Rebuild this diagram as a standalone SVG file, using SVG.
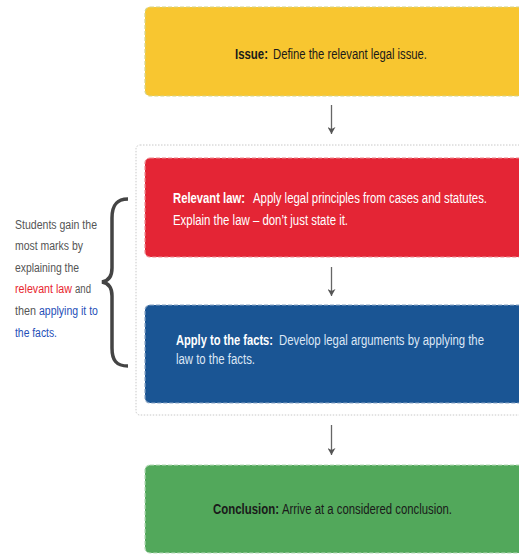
<svg xmlns="http://www.w3.org/2000/svg" width="519" height="554" viewBox="0 0 519 554">
<defs>
<marker id="ah" markerWidth="8" markerHeight="8" refX="7" refY="4" orient="auto" markerUnits="userSpaceOnUse">
<path d="M0,0 L7,4 L0,8 L2,4 Z" fill="#555"/>
</marker>
</defs>
<style>
.t{font-family:"Liberation Sans",Arial,sans-serif;font-size:15px}
.s{font-family:"Liberation Sans",Arial,sans-serif;font-size:13.5px;fill:#555}
.b{font-weight:bold}
.box{stroke-width:1.2;stroke-dasharray:4 2}
.conn line{stroke:#666;stroke-width:1.3}
</style>
<rect width="519" height="554" fill="#fff"/>
<g id="group">
<rect x="136" y="145" width="400" height="270" rx="4" fill="none" stroke="#c8c8c8" stroke-width="1" stroke-dasharray="1.5 1.5"/>
</g>
<g id="issue">
<rect class="box" x="145" y="7" width="390" height="89" rx="5" fill="#F8C630" stroke="#D6D48A"/>
<text class="t b" transform="translate(235,59) scale(0.72,1)" fill="#1a1a1a" textLength="45.8" lengthAdjust="spacingAndGlyphs">Issue:</text>
<text class="t" transform="translate(273,59) scale(0.72,1)" fill="#1a1a1a" textLength="213.9" lengthAdjust="spacingAndGlyphs">Define the relevant legal issue.</text>
</g>
<g id="law">
<rect class="box" x="145" y="158" width="390" height="99" rx="5" fill="#E42535" stroke="#EE8A90"/>
<text class="t b" transform="translate(173,203) scale(0.72,1)" fill="#fff" textLength="100" lengthAdjust="spacingAndGlyphs">Relevant law:</text>
<text class="t" transform="translate(253,203) scale(0.72,1)" fill="#fff" textLength="325" lengthAdjust="spacingAndGlyphs">Apply legal principles from cases and statutes.</text>
<text class="t" transform="translate(173,225) scale(0.72,1)" fill="#fff" textLength="243.1" lengthAdjust="spacingAndGlyphs">Explain the law – don’t just state it.</text>
</g>
<g id="apply">
<rect class="box" x="145" y="305" width="390" height="98" rx="5" fill="#1A5594" stroke="#8AA6C6"/>
<text class="t b" transform="translate(176,345) scale(0.72,1)" fill="#fff" textLength="134.7" lengthAdjust="spacingAndGlyphs">Apply to the facts:</text>
<text class="t" transform="translate(279,345) scale(0.72,1)" fill="#DCE6F5" textLength="284.7" lengthAdjust="spacingAndGlyphs">Develop legal arguments by applying the</text>
<text class="t" transform="translate(176,364) scale(0.72,1)" fill="#DCE6F5" textLength="109.7" lengthAdjust="spacingAndGlyphs">law to the facts.</text>
</g>
<g id="conclusion">
<rect class="box" x="145" y="465" width="390" height="88" rx="5" fill="#52A85B" stroke="#B5DAB8"/>
<text class="t b" transform="translate(213,514) scale(0.72,1)" fill="#1a1a1a" textLength="91.7" lengthAdjust="spacingAndGlyphs">Conclusion:</text>
<text class="t" transform="translate(282,514) scale(0.72,1)" fill="#1a1a1a" textLength="236.1" lengthAdjust="spacingAndGlyphs">Arrive at a considered conclusion.</text>
</g>
<g id="note">
<text class="s" transform="translate(15,229) scale(0.72,1)" textLength="113.9" lengthAdjust="spacingAndGlyphs">Students gain the</text>
<text class="s" transform="translate(15,250) scale(0.72,1)" textLength="94.4" lengthAdjust="spacingAndGlyphs">most marks by</text>
<text class="s" transform="translate(15,272) scale(0.72,1)" textLength="88.9" lengthAdjust="spacingAndGlyphs">explaining the</text>
<text class="s" transform="translate(15,293) scale(0.72,1)" textLength="79.2" lengthAdjust="spacingAndGlyphs" style="fill:#E8262F">relevant law</text>
<text class="s" transform="translate(75,293) scale(0.72,1)" textLength="22.2" lengthAdjust="spacingAndGlyphs">and</text>
<text class="s" transform="translate(15,315) scale(0.72,1)" textLength="29.2" lengthAdjust="spacingAndGlyphs">then</text>
<text class="s" transform="translate(39,315) scale(0.72,1)" textLength="81.9" lengthAdjust="spacingAndGlyphs" style="fill:#1F4FB8">applying it to</text>
<text class="s" transform="translate(15,337) scale(0.72,1)" textLength="58.3" lengthAdjust="spacingAndGlyphs" style="fill:#1F4FB8">the facts.</text>
<path d="M128,199 C116,199 112,206 112,218 L112,268 C112,277 108,281 102,282 C108,283 112,287 112,296 L112,348 C112,360 116,366 128,366" fill="none" stroke="#444" stroke-width="3.5"/>
</g>
<g class="conn" id="connectors">
<line x1="331.5" y1="105" x2="331.5" y2="134" marker-end="url(#ah)"/>
<line x1="331.5" y1="267" x2="331.5" y2="296" marker-end="url(#ah)"/>
<line x1="331.5" y1="425" x2="331.5" y2="455" marker-end="url(#ah)"/>
</g>
</svg>
